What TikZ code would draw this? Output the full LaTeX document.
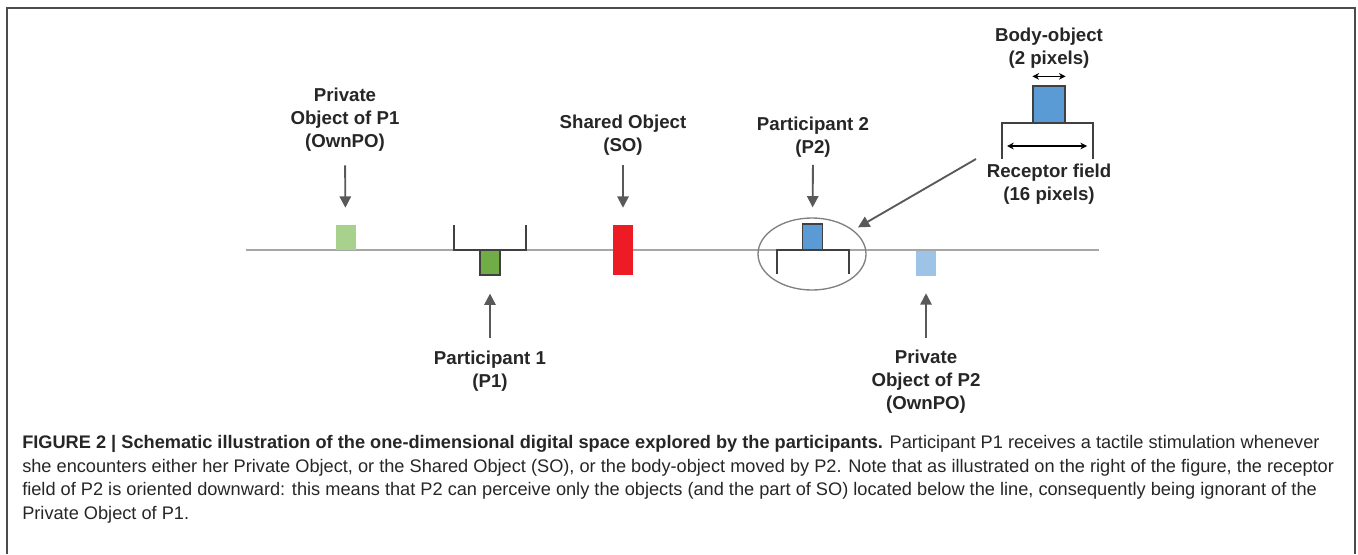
\documentclass[tikz,border=0pt]{standalone}
\usepackage{fontspec}
\setmainfont{Liberation Sans}
\usepackage{tikz}
\usetikzlibrary{shapes,arrows,arrows.meta,positioning}
\definecolor{owngreen}{RGB}{169,209,142}
\definecolor{bodygreen}{RGB}{112,173,71}
\definecolor{sharedred}{RGB}{237,28,36}
\definecolor{bodyblue}{RGB}{91,155,213}
\definecolor{ownblue}{RGB}{157,195,230}
\definecolor{linegray}{RGB}{166,166,166}
\definecolor{pointergray}{RGB}{89,89,89}
\definecolor{bracketgray}{RGB}{64,64,64}
\tikzset{
  every node/.style={
    font=\bfseries\fontsize{14}{17.25}\selectfont
  },
  object/.style={
    shape=rectangle,
    inner sep=0pt,
    minimum width=15pt,
    minimum height=18.75pt,
    fill=#1
  },
  body/.style={
    object=#1,
    draw=bracketgray,
    line width=0.9pt
  },
  tag/.style={
    align=center,
    inner sep=0pt,
    text=black!85
  },
  pointer/.style={
    draw=pointergray,
    line width=1.4pt,
    -{Triangle[width=8.5pt,length=8.5pt]}
  },
  bracket/.style={
    draw=bracketgray,
    line width=1pt
  },
  measure/.style={
    draw=black,
    line width=0.9pt,
    {Stealth[length=5pt,width=5pt]}-{Stealth[length=5pt,width=5pt]}
  },
  space line/.style={
    draw=linegray,
    line width=1.5pt
  }
}

\begin{document}
\begin{tikzpicture}[x=0.75pt,y=-0.75pt]
  \useasboundingbox (0,0) rectangle (1358,554);
  % frame, open at the bottom
  \draw[gray!60!black,line width=1.5pt] (7,554) -- (7,8) -- (1355,8) -- (1355,554);

  % the one-dimensional space
  \draw[space line] (246,250) -- (1099,250);

  % objects on the line
  \node [object=owngreen] (ownpo1) at (345.5,237.5) {};
  \draw[bracket] (454,225) -- (454,250) -- (526,250) -- (526,225);
  \node [body=bodygreen] (p1body) at (490,262.5) {};
  \node [object=sharedred,minimum height=37.5pt] (shared) at (623,250) {};
  \node [ellipse,draw=gray,line width=1pt,minimum width=81pt,minimum height=54pt] (ring) at (812,254) {};
  \draw[bracket] (777,274) -- (777,250) -- (849,250) -- (849,274);
  \node [body=bodyblue,minimum height=19.5pt] (p2body) at (812.5,237) {};
  \node [object=ownblue] (ownpo2) at (926,263.5) {};

  % labels
  \node [tag] (ownpo1 label) at (345,120) {Private\\Object of P1\\(OwnPO)};
  \node [tag] (shared label) at (623,135.5) {Shared Object\\(SO)};
  \node [tag] (p2 label) at (813,137) {Participant 2\\(P2)};
  \node [tag] (p1 label) at (490,371.5) {Participant 1\\(P1)};
  \node [tag] (ownpo2 label) at (926,382) {Private\\Object of P2\\(OwnPO)};

  \draw[pointer,shorten <=10pt,shorten >=12.75pt] (ownpo1 label.south) -- (ownpo1.north);
  \draw[pointer,shorten <=7pt,shorten >=12.75pt] (shared label.south) -- (shared.north);
  \draw[pointer,shorten <=5.5pt,shorten >=12pt] (p2 label.south) -- (p2body.north);
  \draw[pointer,shorten <=10pt,shorten >=13.5pt] (p1 label.north) -- (p1body.south);
  \draw[pointer,shorten <=9.2pt,shorten >=12.75pt] (ownpo2 label.north) -- (ownpo2.south);

  % enlarged body-object and receptor field
  \node [body=bodyblue,minimum width=24pt,minimum height=27.75pt] (inset body) at (1049,104.5) {};
  \coordinate (field left) at (1002,123);
  \coordinate (field right) at (1093,123);
  \draw[bracket] ([yshift=-27pt]field left) -- (field left) -- (field right) -- ([yshift=-27pt]field right);
  \draw[measure] ([yshift=6.75pt]inset body.north west) -- ([yshift=6.75pt]inset body.north east);
  \draw[measure] ([shift={(5,23)}]field left) -- ([shift={(-6,23)}]field right);
  \node [tag] (body label) at (1049,48.5) {Body-object\\(2 pixels)};
  \node [tag] (field label) at (1049,184) {Receptor field\\(16 pixels)};
  \coordinate (ring tail) at (976,159);
  \draw[pointer,shorten >=4pt] (ring tail) -- (ring);

  % caption
  \node [anchor=north west,align=left,inner sep=0pt,text=black!85,
    font=\fontsize{13.65}{17.8}\selectfont] (caption) at (22,435) {%
    \textbf{FIGURE 2 | Schematic illustration of the one-dimensional digital space explored by the participants.} Participant P1 receives a tactile stimulation whenever\\
    she encounters either her Private Object, or the Shared Object (SO), or the body-object moved by P2. Note that as illustrated on the right of the figure, the receptor\\
    field of P2 is oriented downward: this means that P2 can perceive only the objects (and the part of SO) located below the line, consequently being ignorant of the\\
    Private Object of P1.};
\end{tikzpicture}
\end{document}
